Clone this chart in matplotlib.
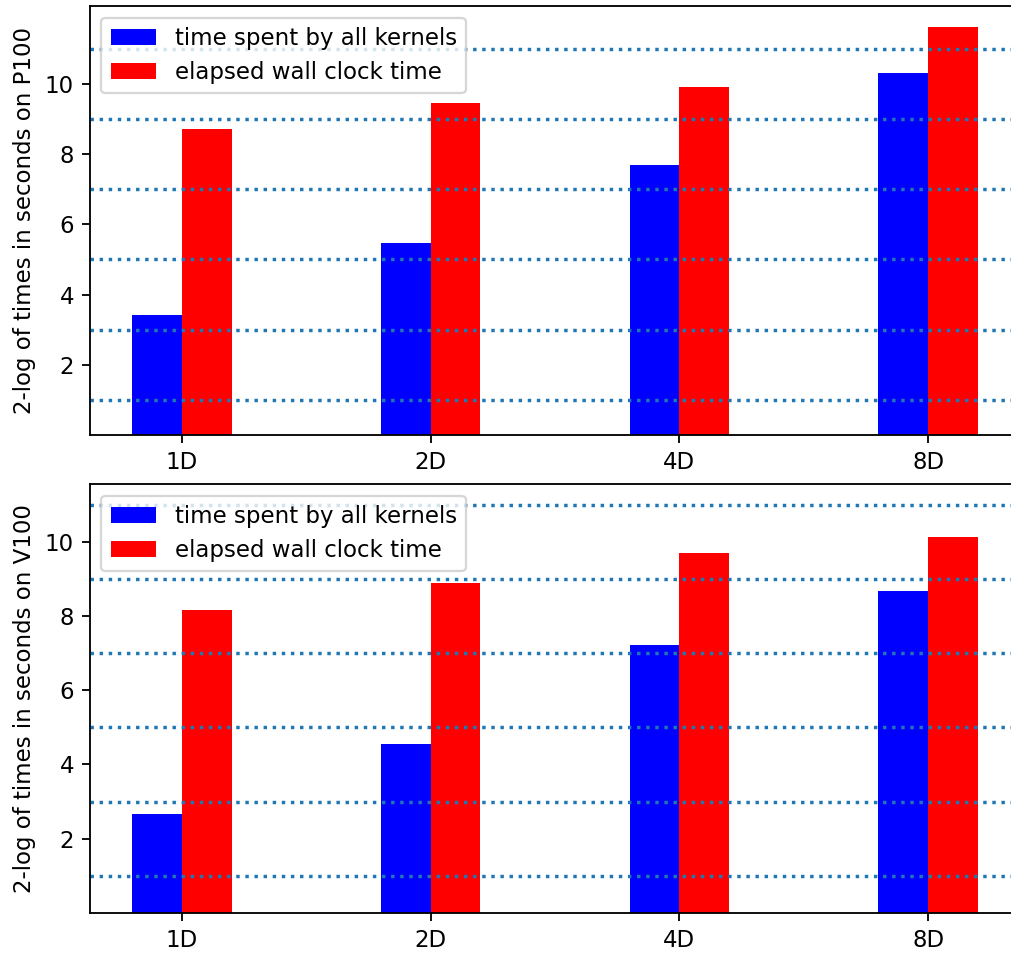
import numpy as np
import matplotlib
matplotlib.use("Agg")
import matplotlib.pyplot as plt

# 2-log of times (seconds)
dims = ["1D", "2D", "4D", "8D"]
p100_kernels = [3.42, 5.48, 7.68, 10.30]
p100_wall = [8.72, 9.46, 9.92, 11.63]
v100_kernels = [2.67, 4.55, 7.21, 8.68]
v100_wall = [8.15, 8.90, 9.70, 10.13]
grid_levels = [1, 3, 5, 7, 9, 11]

dpi = 165
fig = plt.figure(figsize=(1011 / dpi, 953 / dpi), dpi=dpi)
ax1 = fig.add_axes([0.089, 0.5435, 0.920, 0.450])
ax2 = fig.add_axes([0.089, 0.042, 0.920, 0.450])

x = np.arange(len(dims))
width = 0.2

for ax, kern, wall, gpu in [(ax1, p100_kernels, p100_wall, "P100"),
                            (ax2, v100_kernels, v100_wall, "V100")]:
    ax.bar(x - width / 2, kern, width, color="blue", label="time spent by all kernels")
    ax.bar(x + width / 2, wall, width, color="red", label="elapsed wall clock time")
    for lvl in grid_levels:
        ax.axhline(lvl, linestyle=":", color="C0")
    ax.set_xticks(x)
    ax.set_xticklabels(dims)
    ax.set_yticks([2, 4, 6, 8, 10])
    ax.set_ylabel(f"2-log of times in seconds on {gpu}")
    ax.legend(loc="upper left")

fig.savefig("out.png", dpi=dpi)
